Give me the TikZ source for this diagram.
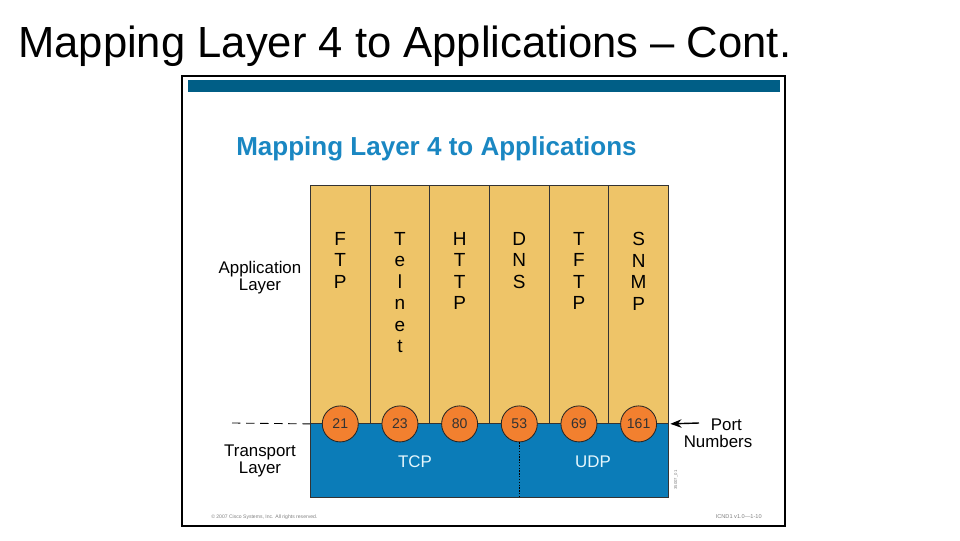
\documentclass[tikz,border=0pt]{standalone}
\usepackage{fontspec}
\setmainfont{Liberation Sans}
\usetikzlibrary{positioning, arrows.meta, calc}

\definecolor{appgold}{HTML}{EEC468}
\definecolor{tpblue}{HTML}{0B7CB8}
\definecolor{portorange}{HTML}{F2802F}
\definecolor{barteal}{HTML}{005E86}
\definecolor{headblue}{HTML}{1A87C2}

\begin{document}
\begin{tikzpicture}[
    x=0.025cm, y=-0.025cm,
    appcol/.style={draw=black!80, fill=appgold, line width=0.6pt, minimum width=1.492cm,
        minimum height=5.95cm, inner sep=0pt, anchor=north west},
    proto/.style={align=center, anchor=north, inner sep=0pt,
        font=\fontsize{13.5}{15.3}\selectfont},
    port/.style={circle, draw=black!85, fill=portorange, line width=0.6pt, minimum size=0.9cm,
        inner sep=0pt, text=black!80, font=\fontsize{10}{10}\selectfont},
    side/.style={align=center, font=\fontsize{12}{12}\selectfont},
    tiny/.style={text=black!50, inner sep=0pt},
    >={Stealth[length=8pt, width=6pt]}
]
\useasboundingbox (0,0) rectangle (960,540);

% Slide title
\node[anchor=base west, inner sep=0pt, font=\fontsize{31}{32}\selectfont] (title) at (18,57)
    {Mapping Layer 4 to Applications -- Cont.};

% Figure frame and header bar
\draw[line width=2.1pt] (182,76) rectangle (785,526);
\fill[barteal] (188,80) rectangle (780,92);
\node[anchor=base west, inner sep=0pt, text=headblue, font=\bfseries\fontsize{18.5}{20}\selectfont]
    (subtitle) at (236,155) {Mapping Layer 4 to Applications};

% Transport layer block
\node[draw=black!80, fill=tpblue, line width=0.6pt, minimum width=8.95cm, minimum height=1.85cm,
    inner sep=0pt, anchor=north west] (tp) at (310,423) {};

% Application columns with their ports
\foreach \proto/\num [count=\i] in {F\\T\\P/21, T\\e\\l\\n\\e\\t/23, H\\T\\T\\P/80,
        D\\N\\S/53, T\\F\\T\\P/69, S\\N\\M\\P/161} {
    \node[appcol] (col\i) at ({310+59.67*(\i-1)},185) {};
    \node[proto] (name\i) at ($(col\i.north)+(0,47)$) {\proto};
    \node[port] (p\num) at (col\i.south) {\num};
}

\node[text=white!90!cyan, font=\fontsize{12}{12}\selectfont] (tcp) at (415,462) {TCP};
\node[text=white!90!cyan, font=\fontsize{12}{12}\selectfont] (udp) at (593,462) {UDP};
\draw[densely dotted, line width=1pt, black] (p53.south) -- (p53 |- tp.south);

% Layer labels
\node[side] (applbl) at (260,278) {Application\\Layer};
\node[side] (tplbl) at (260,461) {Transport\\Layer};
\coordinate (dashstart) at (232,423);
\draw[dashed, dash pattern=on 6pt off 4pt, line width=0.6pt] (dashstart) -- (col1.south west);

% Port numbers callout
\node[side, anchor=north] (portlbl) at (718,414) {\hspace*{12pt}Port\\Numbers};
\coordinate (arrowtail) at (699,423);
\draw[->, line width=1pt, shorten >=1pt] (arrowtail) -- (col6.south east);

% Small print
\node[tiny, anchor=west, font=\fontsize{3.6}{4}\selectfont] (copy) at (211,517)
    {\textcopyright{} 2007 Cisco Systems, Inc. All rights reserved.};
\node[tiny, anchor=east, font=\fontsize{4}{4}\selectfont] (slideno) at (762,517) {ICND1 v1.0---1-10};
\node[tiny, rotate=90, font=\fontsize{3}{3}\selectfont] (figid) at (676,480) {35007\_01};

\end{tikzpicture}
\end{document}
